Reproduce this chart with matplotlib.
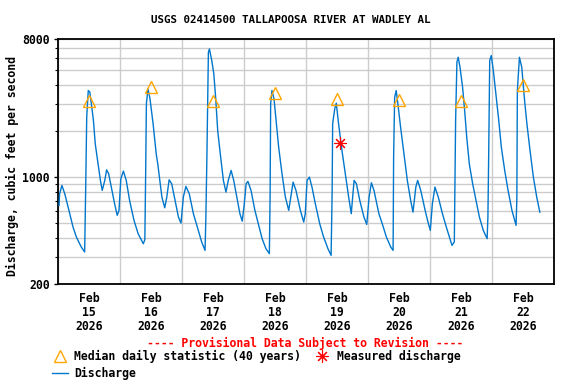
import numpy as np
import pandas as pd
import matplotlib
matplotlib.use("Agg")
import matplotlib.pyplot as plt
import matplotlib.dates as mdates
from matplotlib.ticker import FixedLocator, NullFormatter

# ---- data (hours after 2026-02-15 00:00, discharge in cfs) ----
start = pd.Timestamp("2026-02-15")

q_hours = [
    0.3, 0.5, 1.4, 2.5, 3.8, 5.7, 7.0, 8.9, 10.2, 10.6, 11.0, 11.6, 12.2, 12.8,
    13.6, 14.3, 15.4, 16.3, 17.0, 18.0, 18.7, 19.5, 20.5, 21.8, 22.8, 23.5,
    24.2, 25.2, 26.3, 27.6, 29.3, 30.9, 32.9, 33.5, 33.8, 34.1, 34.7, 35.5,
    36.7, 37.9, 38.5, 39.3, 40.1, 41.2, 42.0, 42.9, 43.9, 45.2, 46.5, 47.5,
    48.4, 49.4, 50.7, 52.3, 54.0, 55.5, 56.8, 57.1, 57.5, 58.1, 58.5, 59.4,
    60.2, 60.9, 61.7, 62.7, 63.9, 64.9, 65.8, 66.9, 67.9, 69.1, 70.3, 71.2,
    72.0, 72.7, 73.4, 74.6, 76.1, 77.6, 78.9, 80.4, 81.7, 82.0, 82.2, 82.7,
    83.5, 84.3, 85.3, 86.6, 87.9, 89.2, 90.2, 90.9, 92.0, 93.7, 95.0, 95.6,
    96.3, 97.2, 98.2, 99.5, 101.2, 102.7, 104.4, 105.6, 106.0, 106.2, 107.0,
    107.6, 108.5, 109.8, 111.1, 112.4, 113.4, 114.5, 115.4, 116.7, 118.3,
    119.4, 120.3, 121.2, 122.2, 124.1, 125.4, 127.0, 128.7, 129.6, 129.8,
    130.2, 130.8, 131.6, 132.5, 133.8, 135.1, 136.4, 137.3, 138.4, 139.1,
    140.3, 142.0, 143.1, 144.0, 144.8, 145.8, 147.1, 148.7, 150.2, 151.2,
    152.4, 153.3, 153.8, 154.3, 154.8, 155.5, 156.5, 157.3, 158.1, 159.1,
    160.4, 161.7, 163.0, 164.5, 166.0, 166.3, 166.6, 167.0, 167.6, 168.4,
    169.4, 170.5, 171.5, 172.8, 174.1, 175.6, 177.2, 177.5, 177.7, 178.5,
    179.4, 180.5, 181.4, 182.6, 183.9, 185.2, 186.4,
]
q_cfs = [
    654, 779, 884, 779, 638, 472, 406, 349, 324, 840, 2474, 3698, 3604, 3022,
    2353, 1654, 1224, 954, 820, 954, 1118, 1053, 862, 670, 563, 607,
    977, 1097, 954, 705, 522, 427, 367, 390, 1002, 3022, 3788, 3258,
    2236, 1423, 1224, 954, 741, 631, 741, 962, 906, 705, 549, 501,
    741, 871, 779, 577, 460, 377, 332, 522, 1288, 6582, 6917, 5808,
    4748, 3342, 2024, 1423, 954, 799, 954, 1108, 954, 741, 577, 516,
    670, 906, 939, 820, 607, 484, 396, 340, 316, 799, 3022, 3698,
    3258, 2353, 1574, 1053, 741, 607, 779, 929, 820, 607, 509, 577,
    954, 1002, 862, 670, 496, 406, 340, 308, 799, 2236, 2802,
    3054, 2236, 1498, 1053, 741, 577, 954, 906, 705, 549,
    491, 741, 920, 820, 577, 496, 406, 349, 332, 1354,
    3342, 3698, 2876, 2128, 1423, 954, 705, 591, 862, 954,
    820, 607, 509, 449, 670, 862, 741, 577, 472, 416,
    358, 377, 2353, 5662, 6104, 5252, 3886, 2736, 1830, 1224,
    906, 705, 549, 449, 396, 549, 1389, 5808, 6262, 4996,
    3512, 2353, 1574, 1108, 820, 607, 484, 723, 3698, 6104,
    5252, 3180, 2236, 1498, 1002, 741, 591,
]

# median daily statistic (40 years), plotted at noon
median_days = ["2026-02-15", "2026-02-16", "2026-02-17", "2026-02-18",
               "2026-02-19", "2026-02-20", "2026-02-21", "2026-02-22"]
median_cfs = [3140, 3910, 3150, 3570, 3260, 3190, 3140, 4010]

# field measurement
meas_time = ["2026-02-19 13:10"]
meas_cfs = [1664]

# ---- plot ----
FONT = "DejaVu Sans Mono"
FS = 8.3
plt.rcParams["font.family"] = FONT
plt.rcParams["font.weight"] = "bold"

fig = plt.figure(figsize=(5.76, 3.84), dpi=100)
ax = fig.add_axes([58.3 / 576, 1 - 284 / 384, (554.3 - 58.3) / 576, (284 - 39.3) / 384])

t = start + pd.to_timedelta(q_hours, unit="h")
ax.plot(t, q_cfs, color="#0077cc", linewidth=1.0, zorder=3)

t_med = pd.to_datetime(median_days) + pd.Timedelta(hours=12)
ax.plot(t_med, median_cfs, linestyle="none", marker="^", markersize=9,
        mfc="none", mec="#ffa500", mew=1.0, zorder=4)
ax.plot(pd.to_datetime(meas_time), meas_cfs, linestyle="none", marker=(8, 2, 0),
        markersize=9, color="red", mew=0.8, zorder=5)

ax.set_yscale("log")
ax.set_ylim(200, 8000)
ax.set_xlim(start, start + pd.Timedelta(days=8))

# y ticks: labelled 200, 1000, 8000; gridlines at the other hundreds/thousands
ax.yaxis.set_major_locator(FixedLocator([200, 1000, 8000]))
ax.yaxis.set_major_formatter(plt.FuncFormatter(lambda v, p: f"{int(v)}"))
minor_y = [300, 400, 500, 600, 700, 800, 900, 2000, 3000, 4000, 5000, 6000, 7000]
ax.yaxis.set_minor_locator(FixedLocator(minor_y))
ax.yaxis.set_minor_formatter(NullFormatter())
ax.tick_params(axis="y", which="major", length=3, width=1, pad=3, labelsize=FS)
ax.tick_params(axis="y", which="minor", length=2, width=0.8)

# x: gridlines at midnight, labels at noon
ax.xaxis.set_major_locator(mdates.DayLocator())
ax.xaxis.set_major_formatter(NullFormatter())
ax.xaxis.set_minor_locator(mdates.HourLocator(byhour=[12]))
ax.xaxis.set_minor_formatter(mdates.DateFormatter("%b\n%d\n%Y"))
ax.tick_params(axis="x", which="both", length=0, labelsize=FS, pad=6)
for lab in ax.get_xticklabels(minor=True):
    lab.set_linespacing(1.1)

ax.grid(True, which="major", axis="x", color="#cccccc", linewidth=1.0)
ax.grid(True, which="both", axis="y", color="#cccccc", linewidth=1.0)
ax.set_axisbelow(True)
for sp in ax.spines.values():
    sp.set_linewidth(1.3)

fig.text(291 / 576, 1 - 20 / 384, "USGS 02414500 TALLAPOOSA RIVER AT WADLEY AL",
         ha="center", va="center", fontsize=7.8, fontweight="bold")
fig.text(12 / 576, 1 - 166 / 384, "Discharge, cubic feet per second",
         rotation=90, ha="center", va="center", fontsize=FS, fontweight="bold")

# legend area
fig.text(305 / 576, 1 - 343 / 384, "---- Provisional Data Subject to Revision ----",
         ha="center", va="center", color="red", fontsize=FS, fontweight="bold")
fig.add_artist(plt.Line2D([60 / 576], [1 - 356 / 384], marker="^", markersize=8,
                          mfc="none", mec="#ffa500", mew=1.0, linestyle="none"))
fig.text(74 / 576, 1 - 356 / 384, "Median daily statistic (40 years)",
         ha="left", va="center", fontsize=FS, fontweight="bold")
fig.add_artist(plt.Line2D([322 / 576], [1 - 356 / 384], marker=(8, 2, 0), markersize=9,
                          color="red", mew=0.8, linestyle="none"))
fig.text(337 / 576, 1 - 356 / 384, "Measured discharge",
         ha="left", va="center", fontsize=FS, fontweight="bold")
fig.add_artist(plt.Line2D([52 / 576, 68 / 576], [1 - 373 / 384, 1 - 373 / 384],
                          color="#0077cc", linewidth=1.0))
fig.text(74 / 576, 1 - 373 / 384, "Discharge",
         ha="left", va="center", fontsize=FS, fontweight="bold")

fig.savefig("out.png", dpi=100)
